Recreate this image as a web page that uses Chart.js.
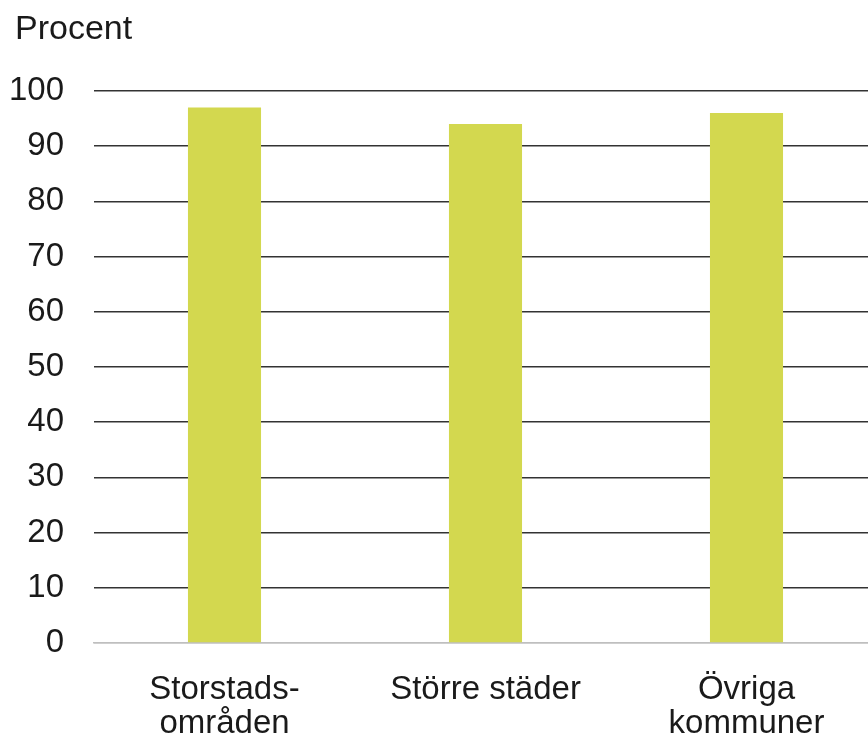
<!DOCTYPE html>
<html><head><meta charset="utf-8">
<script src="https://cdn.jsdelivr.net/npm/chart.js@4"></script>
<style>
html,body{margin:0;padding:0;overflow:hidden;background:#fff;}
#wrap{width:878px;height:738px;position:relative;}
</style></head>
<body><div id="wrap"><canvas id="c"></canvas></div>
<script>
const categories = [["Storstads-","områden"], "Större städer", ["Övriga","kommuner"]];
const values = [97, 94, 96];
const yTicks = [0,10,20,30,40,50,60,70,80,90,100];
const yTitle = "Procent";

const FONT = "'Liberation Sans', Arial, sans-serif";

const titlePlugin = {
  id: 'ytitle',
  afterDraw(chart) {
    const ctx = chart.ctx;
    ctx.save();
    ctx.fillStyle = '#1a1a1a';
    ctx.font = "34px " + FONT;
    ctx.textBaseline = 'middle';
    ctx.textAlign = 'left';
    ctx.fillText(yTitle, 15, 30);
    ctx.restore();
  }
};

new Chart(document.getElementById('c'), {
  type: 'bar',
  data: {
    labels: categories,
    datasets: [{
      data: values,
      backgroundColor: '#d3d84f',
      borderWidth: 0,
      categoryPercentage: 1,
      barPercentage: 0.28
    }]
  },
  options: {
    responsive: true,
    maintainAspectRatio: false,
    animation: false,
    layout: { padding: { top: 91, left: 0, right: 1, bottom: 0 } },
    plugins: { legend: { display: false }, tooltip: { enabled: false } },
    scales: {
      x: {
        grid: { display: false, drawTicks: false },
        border: { display: true, color: '#bfbfbf', width: 1.5 },
        ticks: { color: '#1a1a1a', font: { family: FONT, size: 33, lineHeight: '34px' }, padding: 30, maxRotation: 0, autoSkip: false },
        afterFit(s) { s.height = 95; }
      },
      y: {
        min: 0, max: 100,
        afterBuildTicks(s) { s.ticks = yTicks.map(v => ({ value: v })); },
        grid: {
          drawTicks: false,
          color: ctx => ctx.tick && ctx.tick.value === 0 ? '#bfbfbf' : '#333333',
          lineWidth: 1.5
        },
        border: { display: false },
        ticks: { color: '#1a1a1a', font: { family: FONT, size: 33 }, padding: 30 },
        afterFit(s) { s.width = 94; }
      }
    }
  },
  plugins: [titlePlugin]
});
</script></body></html>
